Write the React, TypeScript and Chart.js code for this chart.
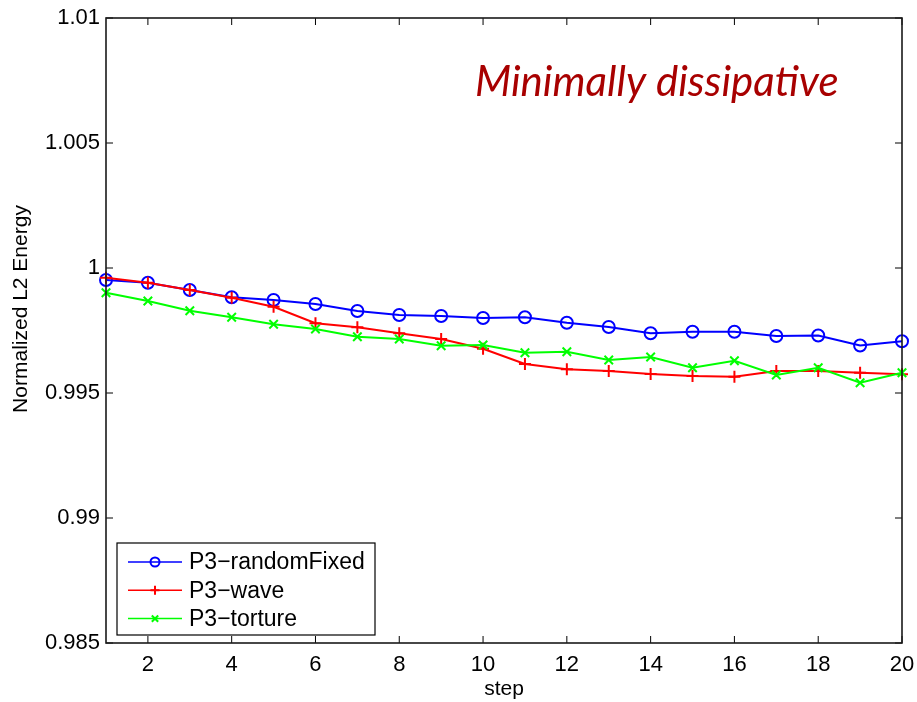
import React, { useEffect, useRef } from "react";
import { Chart, registerables } from "chart.js";

Chart.register(...registerables);

const steps = [1, 2, 3, 4, 5, 6, 7, 8, 9, 10, 11, 12, 13, 14, 15, 16, 17, 18, 19, 20];
const randomFixed = [0.99952, 0.99941, 0.99912, 0.99883, 0.99872, 0.99856, 0.99828, 0.99812, 0.99808, 0.998, 0.99803, 0.99781, 0.99764, 0.99739, 0.99745, 0.99745, 0.99728, 0.9973, 0.9969, 0.99707];
const wave = [0.99961, 0.99941, 0.99912, 0.99881, 0.99845, 0.99779, 0.99763, 0.99739, 0.99716, 0.99677, 0.99616, 0.99595, 0.99588, 0.99576, 0.99568, 0.99565, 0.99588, 0.99588, 0.99581, 0.99575];
const torture = [0.99901, 0.99868, 0.99829, 0.99803, 0.99775, 0.99756, 0.99725, 0.99716, 0.99689, 0.99692, 0.99661, 0.99665, 0.99632, 0.99644, 0.99601, 0.99629, 0.99572, 0.99601, 0.99541, 0.99581];
const xTicks = [2, 4, 6, 8, 10, 12, 14, 16, 18, 20];
const yTicks = [0.985, 0.99, 0.995, 1, 1.005, 1.01];
const seriesLabels = ["P3\u2212randomFixed", "P3\u2212wave", "P3\u2212torture"];
const annotationText = "Minimally dissipative";
const yTitle = "Normalized L2 Energy";
const xTitle = "step";

const FONT = "'Liberation Sans', Arial, Helvetica, sans-serif";

function drawMarker(ctx: CanvasRenderingContext2D, style: string, x: number, y: number, r: number, color: string) {
  ctx.save();
  ctx.strokeStyle = color;
  ctx.lineWidth = 2;
  ctx.beginPath();
  if (style === "circle") {
    ctx.arc(x, y, r, 0, Math.PI * 2);
  } else if (style === "cross") {
    ctx.moveTo(x - r, y);
    ctx.lineTo(x + r, y);
    ctx.moveTo(x, y - r);
    ctx.lineTo(x, y + r);
  } else {
    const o = r * 0.7071;
    ctx.moveTo(x - o, y - o);
    ctx.lineTo(x + o, y + o);
    ctx.moveTo(x - o, y + o);
    ctx.lineTo(x + o, y - o);
  }
  ctx.stroke();
  ctx.restore();
}

const framePlugin = {
  id: "matlabFrame",
  afterDatasetsDraw(chart: any) {
    const { ctx, chartArea } = chart;
    const { left, right, top, bottom } = chartArea;
    const xs = chart.scales.x;
    const ys = chart.scales.y;
    ctx.save();
    ctx.strokeStyle = "#000";
    ctx.lineWidth = 1;
    const tl = 7;
    ctx.beginPath();
    xTicks.forEach((t) => {
      const px = xs.getPixelForValue(t);
      ctx.moveTo(px, bottom);
      ctx.lineTo(px, bottom - tl);
      ctx.moveTo(px, top);
      ctx.lineTo(px, top + tl);
    });
    yTicks.forEach((t) => {
      const py = ys.getPixelForValue(t);
      ctx.moveTo(left, py);
      ctx.lineTo(left + tl, py);
      ctx.moveTo(right, py);
      ctx.lineTo(right - tl, py);
    });
    ctx.stroke();
    ctx.lineWidth = 1.6;
    ctx.strokeStyle = "#1a1a1a";
    ctx.strokeRect(left, top, right - left, bottom - top);

    // y axis title
    ctx.save();
    ctx.translate(21, 309);
    ctx.rotate(-Math.PI / 2);
    ctx.fillStyle = "#000";
    ctx.font = "21px " + FONT;
    ctx.textAlign = "center";
    ctx.textBaseline = "middle";
    ctx.fillText(yTitle, 0, 0);
    ctx.restore();

    // annotation
    ctx.fillStyle = "#a80000";
    ctx.font = "italic 42px Lato, 'Open Sans', sans-serif";
    ctx.textBaseline = "alphabetic";
    ctx.textAlign = "left";
    ctx.fillText(annotationText, 475, 96);

    // legend
    const bx = 117, by = 543, bw = 258, bh = 92;
    ctx.fillStyle = "#fff";
    ctx.fillRect(bx, by, bw, bh);
    ctx.lineWidth = 1.2;
    ctx.strokeStyle = "#000";
    ctx.strokeRect(bx, by, bw, bh);
    ctx.font = "23px " + FONT;
    ctx.textBaseline = "middle";
    chart.data.datasets.forEach((ds: any, i: number) => {
      const yy = 562 + i * 28.3;
      ctx.strokeStyle = ds.borderColor;
      ctx.lineWidth = 1.5;
      ctx.beginPath();
      ctx.moveTo(128, yy);
      ctx.lineTo(182, yy);
      ctx.stroke();
      drawMarker(ctx, ds.pointStyle, 155, yy, 4.5, ds.borderColor);
      ctx.fillStyle = "#000";
      ctx.fillText(ds.label, 189, yy + 1);
    });
    ctx.restore();
  },
};

export default function App() {
  const ref = useRef<HTMLCanvasElement>(null);
  useEffect(() => {
    if (!ref.current) return;
    const mk = (vals: number[]) => steps.map((s, i) => ({ x: s, y: vals[i] }));
    const chart = new Chart(ref.current, {
      type: "line",
      data: {
        datasets: [
          {
            label: seriesLabels[0],
            data: mk(randomFixed),
            borderColor: "#0000ff",
            backgroundColor: "rgba(0,0,0,0)",
            borderWidth: 2,
            pointStyle: "circle",
            pointRadius: 6,
            pointBorderWidth: 2,
            pointBackgroundColor: "rgba(0,0,0,0)",
            tension: 0,
            clip: false as any,
            order: 2,
          },
          {
            label: seriesLabels[1],
            data: mk(wave),
            borderColor: "#ff0000",
            backgroundColor: "rgba(0,0,0,0)",
            borderWidth: 2,
            pointStyle: "cross",
            pointRadius: 6,
            pointBorderWidth: 2,
            tension: 0,
            clip: false as any,
            order: 1,
          },
          {
            label: seriesLabels[2],
            data: mk(torture),
            borderColor: "#00ff00",
            backgroundColor: "rgba(0,0,0,0)",
            borderWidth: 2,
            pointStyle: "crossRot",
            pointRadius: 6,
            pointBorderWidth: 2,
            tension: 0,
            clip: false as any,
            order: 0,
          },
        ],
      },
      options: {
        responsive: false,
        animation: false,
        events: [],
        layout: { padding: { top: 18, right: 15, left: 0, bottom: 0 } },
        plugins: { legend: { display: false }, tooltip: { enabled: false } },
        scales: {
          x: {
            type: "linear",
            min: 1,
            max: 20,
            afterFit: (s: any) => {
              s.height = 59;
              s.paddingLeft = 0;
              s.paddingRight = 0;
            },
            afterBuildTicks: (s: any) => {
              s.ticks = xTicks.map((v) => ({ value: v }));
            },
            grid: { display: false, drawTicks: false },
            border: { display: false },
            ticks: {
              color: "#000",
              font: { family: FONT, size: 22 },
              padding: 9,
              maxRotation: 0,
              autoSkip: false,
            },
            title: {
              display: true,
              text: xTitle,
              color: "#000",
              font: { family: FONT, size: 21 },
              padding: { top: 0, bottom: 0 },
            },
          },
          y: {
            type: "linear",
            min: 0.985,
            max: 1.01,
            afterFit: (s: any) => {
              s.width = 106;
              s.paddingTop = 0;
              s.paddingBottom = 0;
            },
            afterBuildTicks: (s: any) => {
              s.ticks = yTicks.map((v) => ({ value: v }));
            },
            grid: { display: false, drawTicks: false },
            border: { display: false },
            ticks: {
              color: "#000",
              font: { family: FONT, size: 22 },
              padding: 6,
              autoSkip: false,
              callback: (v: any) => String(Number(Number(v).toFixed(4))),
            },
            title: { display: false },
          },
        },
      },
      plugins: [framePlugin],
    } as any);
    return () => chart.destroy();
  }, []);
  return (
    <div style={{ position: "absolute", left: 0, top: 0, width: 917, height: 702, background: "#fff" }}>
      <canvas ref={ref} width={917} height={702} style={{ display: "block" }} />
    </div>
  );
}
